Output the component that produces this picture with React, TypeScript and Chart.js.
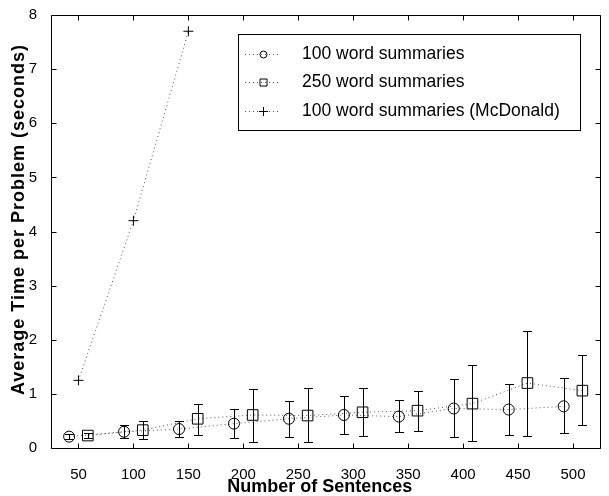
import React, { useEffect, useRef } from "react";
import { Chart, registerables } from "chart.js";

Chart.register(...registerables);

// ---- data ----
const sentenceCounts = [50, 100, 150, 200, 250, 300, 350, 400, 450, 500];
const xTickValues = [50, 100, 150, 200, 250, 300, 350, 400, 450, 500];
const yTickValues = [0, 1, 2, 3, 4, 5, 6, 7, 8];

const words100Mean = [0.21, 0.3, 0.35, 0.45, 0.54, 0.61, 0.58, 0.73, 0.71, 0.77];
const words100Low = [0.16, 0.18, 0.21, 0.19, 0.21, 0.26, 0.29, 0.2, 0.24, 0.28];
const words100High = [0.26, 0.43, 0.49, 0.72, 0.87, 0.96, 0.89, 1.27, 1.18, 1.29];

const words250Mean = [0.23, 0.33, 0.54, 0.61, 0.6, 0.66, 0.69, 0.82, 1.2, 1.06];
const words250Low = [0.18, 0.16, 0.24, 0.11, 0.11, 0.23, 0.31, 0.13, 0.22, 0.43];
const words250High = [0.28, 0.49, 0.81, 1.09, 1.1, 1.1, 1.06, 1.53, 2.17, 1.71];

const mcdonaldCounts = [50, 100, 150];
const mcdonaldMean = [1.25, 4.2, 7.7];

const seriesLabels = [
  "100 word summaries",
  "250 word summaries",
  "100 word summaries (McDonald)",
];
const xTitle = "Number of Sentences";
const yTitle = "Average Time per Problem (seconds)";

// horizontal dodge (in x units) so the two error-bar series do not overlap
const DODGE_LEFT = -8.5;
const DODGE_RIGHT = 8.5;

const FONT = "'Liberation Sans', Arial, Helvetica, sans-serif";
const LINE_COLOR = "#555555";

type ErrSpec = { x: number[]; low: number[]; high: number[] };
const errorSpecs: ErrSpec[] = [
  { x: sentenceCounts.map((v) => v + DODGE_LEFT), low: words100Low, high: words100High },
  { x: sentenceCounts.map((v) => v + DODGE_RIGHT), low: words250Low, high: words250High },
];

const errorBarPlugin = {
  id: "errorBars",
  afterDatasetsDraw(chart: any) {
    const { ctx, scales } = chart;
    const xs = scales.x;
    const ys = scales.y;
    ctx.save();
    ctx.strokeStyle = "#000";
    ctx.lineWidth = 1;
    const cap = 4.5;
    errorSpecs.forEach((spec) => {
      spec.x.forEach((xv, i) => {
        const px = Math.round(xs.getPixelForValue(xv)) + 0.5;
        const pl = Math.round(ys.getPixelForValue(spec.low[i])) + 0.5;
        const ph = Math.round(ys.getPixelForValue(spec.high[i])) + 0.5;
        ctx.beginPath();
        ctx.moveTo(px, pl);
        ctx.lineTo(px, ph);
        ctx.moveTo(px - cap, pl);
        ctx.lineTo(px + cap, pl);
        ctx.moveTo(px - cap, ph);
        ctx.lineTo(px + cap, ph);
        ctx.stroke();
      });
    });
    ctx.restore();
  },
};

const boxPlugin = {
  id: "boxAxes",
  afterDraw(chart: any) {
    const { ctx, chartArea, scales } = chart;
    const { left, right, top, bottom } = chartArea;
    const L = Math.round(left) + 0.5;
    const R = Math.round(right) - 0.5;
    const T = Math.round(top) + 0.5;
    const B = Math.round(bottom) + 0.5;
    ctx.save();
    ctx.strokeStyle = "#000";
    ctx.lineWidth = 1;
    ctx.beginPath();
    ctx.rect(L, T, R - L, B - T);
    const tl = 5;
    xTickValues.forEach((v) => {
      const px = Math.round(scales.x.getPixelForValue(v)) + 0.5;
      ctx.moveTo(px, B);
      ctx.lineTo(px, B - tl);
      ctx.moveTo(px, T);
      ctx.lineTo(px, T + tl);
    });
    yTickValues.forEach((v) => {
      const py = Math.round(scales.y.getPixelForValue(v)) + 0.5;
      ctx.moveTo(L, py);
      ctx.lineTo(L + tl, py);
      ctx.moveTo(R, py);
      ctx.lineTo(R - tl, py);
    });
    ctx.stroke();

    // axis titles
    ctx.fillStyle = "#000";
    ctx.textAlign = "center";
    ctx.textBaseline = "middle";
    ctx.font = `bold 18px ${FONT}`;
    ctx.fillText(xTitle, (left + right) / 2 - 6, 487);
    ctx.save();
    ctx.translate(19, (top + bottom) / 2 - 12);
    ctx.rotate(-Math.PI / 2);
    try {
      (ctx as any).letterSpacing = "1px";
    } catch (e) {}
    ctx.fillText(yTitle, 0, 0);
    ctx.restore();
    ctx.restore();
  },
};

const legendPlugin = {
  id: "insideLegend",
  afterDraw(chart: any) {
    const { ctx } = chart;
    const boxLeft = 238;
    const boxRight = 580;
    const boxTop = 34;
    const boxBottom = 130;
    const rowH = 28.5;
    ctx.save();
    ctx.fillStyle = "#fff";
    ctx.fillRect(boxLeft, boxTop, boxRight - boxLeft, boxBottom - boxTop);
    ctx.strokeStyle = "#000";
    ctx.lineWidth = 1;
    ctx.strokeRect(boxLeft + 0.5, boxTop + 0.5, boxRight - boxLeft, boxBottom - boxTop);
    ctx.font = `17.5px ${FONT}`;
    ctx.textBaseline = "middle";
    ctx.textAlign = "left";
    chart.data.datasets.forEach((ds: any, i: number) => {
      const cy = Math.round(boxTop + 19.5 + i * rowH) + 0.5;
      const x0 = boxLeft + 7;
      const x1 = boxLeft + 42;
      ctx.save();
      ctx.strokeStyle = LINE_COLOR;
      ctx.setLineDash([1, 3]);
      ctx.beginPath();
      ctx.moveTo(x0, cy);
      ctx.lineTo(x1, cy);
      ctx.stroke();
      ctx.restore();
      const mx = Math.round((x0 + x1) / 2) + 0.5;
      ctx.strokeStyle = "#000";
      ctx.beginPath();
      if (ds.pointStyle === "circle") {
        ctx.arc(mx, cy, 3.5, 0, Math.PI * 2);
      } else if (ds.pointStyle === "rect") {
        ctx.rect(mx - 3.5, cy - 3.5, 7, 7);
      } else {
        ctx.moveTo(mx - 4.5, cy);
        ctx.lineTo(mx + 4.5, cy);
        ctx.moveTo(mx, cy - 4.5);
        ctx.lineTo(mx, cy + 4.5);
      }
      ctx.stroke();
      ctx.fillStyle = "#000";
      ctx.fillText(ds.label, boxLeft + 64, cy);
    });
    ctx.restore();
  },
};

export default function App() {
  const ref = useRef<HTMLCanvasElement | null>(null);

  useEffect(() => {
    document.body.style.margin = "0";
    const canvas = ref.current;
    if (!canvas) return;
    const commonLine = {
      showLine: true,
      borderColor: LINE_COLOR,
      borderWidth: 1,
      borderDash: [1, 3],
      backgroundColor: "rgba(0,0,0,0)",
      pointBorderColor: "#000",
      pointBackgroundColor: "rgba(0,0,0,0)",
      pointBorderWidth: 1,
      fill: false,
      tension: 0,
    };
    const chart = new Chart(canvas, {
      type: "scatter",
      data: {
        datasets: [
          {
            ...commonLine,
            label: seriesLabels[0],
            data: sentenceCounts.map((v, i) => ({ x: v + DODGE_LEFT, y: words100Mean[i] })),
            pointStyle: "circle",
            pointRadius: 5.5,
          },
          {
            ...commonLine,
            label: seriesLabels[1],
            data: sentenceCounts.map((v, i) => ({ x: v + DODGE_RIGHT, y: words250Mean[i] })),
            pointStyle: "rect",
            pointRadius: 7.5,
          },
          {
            ...commonLine,
            label: seriesLabels[2],
            data: mcdonaldCounts.map((v, i) => ({ x: v, y: mcdonaldMean[i] })),
            pointStyle: "cross",
            pointRadius: 5,
          },
        ],
      },
      options: {
        responsive: false,
        animation: false,
        devicePixelRatio: 1,
        layout: { padding: { left: 0, top: 8, right: 2, bottom: 0 } },
        plugins: {
          legend: { display: false },
          tooltip: { enabled: false },
        },
        scales: {
          x: {
            type: "linear",
            min: 25,
            max: 525,
            grid: { display: false },
            border: { display: false },
            afterBuildTicks: (s: any) => {
              s.ticks = xTickValues.map((v) => ({ value: v }));
            },
            afterFit: (s: any) => {
              s.height = 48;
            },
            ticks: {
              color: "#000",
              font: { family: FONT, size: 15 },
              padding: 10,
              maxRotation: 0,
              autoSkip: false,
            },
          },
          y: {
            type: "linear",
            min: 0,
            max: 8,
            grid: { display: false },
            border: { display: false },
            afterBuildTicks: (s: any) => {
              s.ticks = yTickValues.map((v) => ({ value: v }));
            },
            afterFit: (s: any) => {
              s.width = 51;
            },
            ticks: {
              color: "#000",
              font: { family: FONT, size: 15 },
              padding: 6,
            },
          },
        },
      },
      plugins: [errorBarPlugin, boxPlugin, legendPlugin],
    } as any);
    return () => chart.destroy();
  }, []);

  return (
    <div style={{ position: "relative", width: 609, height: 496 }}>
      <canvas ref={ref} width={609} height={496} style={{ width: 609, height: 496, display: "block" }} />
    </div>
  );
}
